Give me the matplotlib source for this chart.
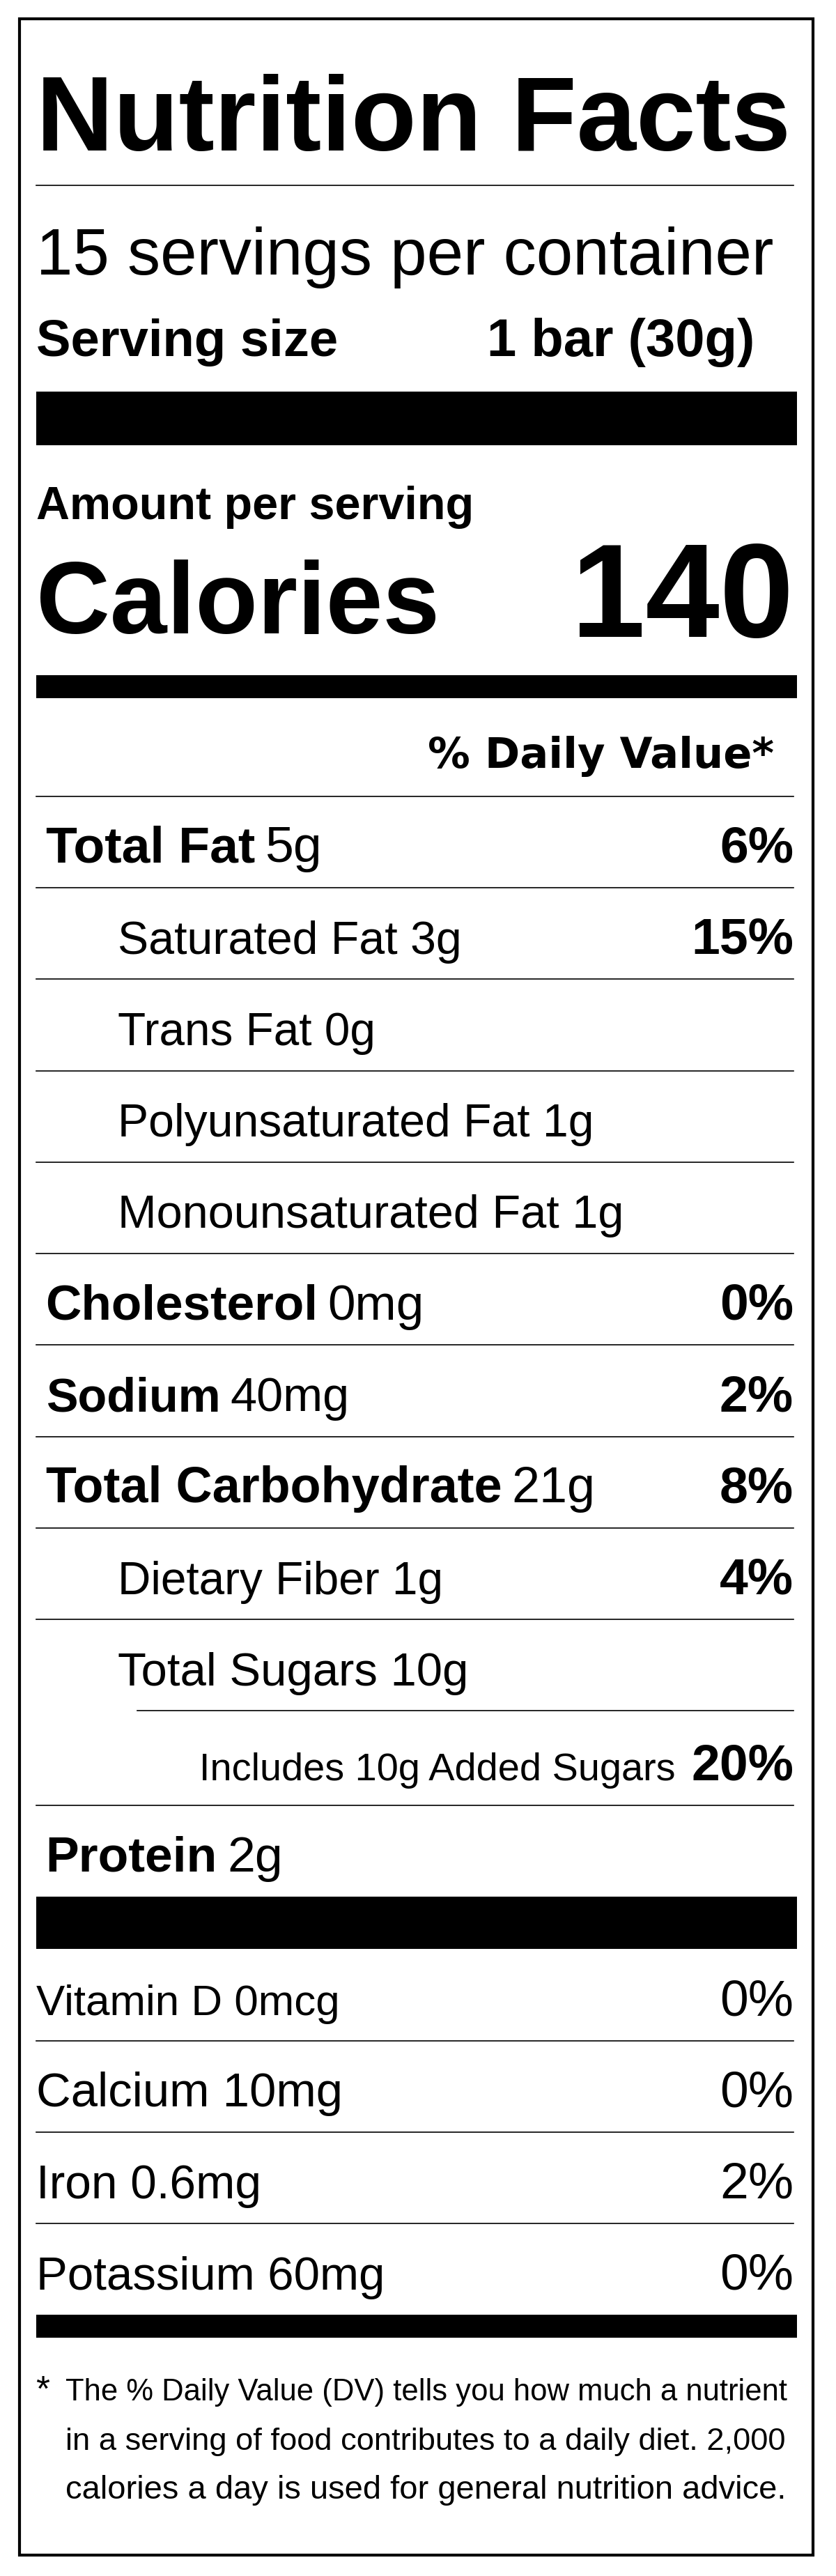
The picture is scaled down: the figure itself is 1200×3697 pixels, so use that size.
import matplotlib
matplotlib.use("Agg")
import matplotlib.pyplot as plt
from matplotlib.patches import Rectangle

title = "Nutrition Facts"
servings = "15 servings per container"
serving_size = ("Serving size", "1 bar (30g)")
calories = 140
nutr_names = ["Total Fat", "Saturated Fat", "Trans Fat", "Polyunsaturated Fat", "Monounsaturated Fat",
              "Cholesterol", "Sodium", "Total Carbohydrate", "Dietary Fiber", "Total Sugars",
              "Includes 10g Added Sugars", "Protein"]
nutr_amounts = ["5g", "3g", "0g", "1g", "1g", "0mg", "40mg", "21g", "1g", "10g", "", "2g"]
nutr_dv = ["6%", "15%", "", "", "", "0%", "2%", "8%", "4%", "", "20%", ""]
nutr_level = [0, 1, 1, 1, 1, 0, 0, 0, 1, 1, 2, 0]
vit_names = ["Vitamin D 0mcg", "Calcium 10mg", "Iron 0.6mg", "Potassium 60mg"]
vit_dv = ["0%", "0%", "2%", "0%"]
footnote = ["The % Daily Value (DV) tells you how much a nutrient",
            "in a serving of food contributes to a daily diet. 2,000",
            "calories a day is used for general nutrition advice."]

# reference text widths (layout, display units) used to fit the wide fonts
nutr_w = [129, 211, 158, 292, 310, 167, 107, 279, 200, 215, 292, 105]
vit_w = [186, 188, 138, 214]

S = 1200 / 512
W, H = 512, 3698 / S
fig = plt.figure(figsize=(12, 36.98), dpi=100)
ax = fig.add_axes([0, 0, 1, 1])
ax.set_xlim(0, W); ax.set_ylim(H, 0); ax.axis("off")
fig.canvas.draw()
R = fig.canvas.get_renderer()

FAM = ["Liberation Sans", "DejaVu Sans"]
def T(x, y, s, cap, bold=False, ha="left", fam=FAM, maxw=None, size=None):
    t = ax.text(x, y, s, fontsize=size if size else cap * S * 0.98,
                fontweight="bold" if bold else "normal",
                ha=ha, va="baseline", family=fam, color="black")
    if maxw:
        bb = t.get_window_extent(R).transformed(ax.transData.inverted())
        w = bb.x1 - bb.x0
        if w > maxw:
            t.set_fontsize(t.get_fontsize() * maxw / w)
    return t
def right_edge(t):
    return t.get_window_extent(R).transformed(ax.transData.inverted()).x1
def bar(y0, y1, x0=22, x1=488):
    ax.add_patch(Rectangle((x0, y0), x1 - x0, y1 - y0, color="black", lw=0))
def line(y, x0=22, x1=486):
    ax.plot([x0, x1], [y, y], color="black", lw=1.2)

ax.add_patch(Rectangle((12, 12), 486, 1553, fill=False, ec="black", lw=3))
T(22, 92, title, 64, bold=True, maxw=462)
line(114)
T(22, 168, servings, 30, maxw=452)
T(22, 218, serving_size[0], 31, bold=True, maxw=185)
T(462, 218, serving_size[1], 31, bold=True, ha="right", maxw=164)
bar(240, 273)
T(22, 318, "Amount per serving", 25, bold=True, maxw=268)
T(22, 388, "Calories", 46, bold=True, maxw=251)
T(486, 390, str(calories), 60, bold=True, ha="right", maxw=162)
bar(414, 428)
T(474, 470, "% Daily Value*", 19, bold=True, ha="right", fam=["DejaVu Sans"], maxw=246)
line(488)

indent = [28, 72, 122]
for i, (n, a, d, lv) in enumerate(zip(nutr_names, nutr_amounts, nutr_dv, nutr_level)):
    top = 488 + 56 * i + (2 if i >= 10 else 0)
    base = top + 40
    x = indent[lv]
    if lv == 0:
        t = T(x, base, n, 23, bold=True, maxw=nutr_w[i])
        T(right_edge(t) + 6, base, a, 23, size=t.get_fontsize())
    else:
        T(x, base, (n + " " + a).strip(), 23, maxw=nutr_w[i])
    if d:
        T(486, base, d, 23, bold=True, ha="right")
    if i < len(nutr_names) - 1:
        line(top + 56, x0=84 if i == 9 else 22)

bar(1162, 1194)
for i, (n, d) in enumerate(zip(vit_names, vit_dv)):
    base = 1234 + 56 * i
    T(22, base, n, 23, maxw=vit_w[i])
    T(486, base, d, 23, ha="right")
    if i < 3:
        line(1250 + 56 * i)
bar(1418, 1432)
T(22, 1470, "*", 16)
for i, l in enumerate(footnote):
    T(40, 1470 + 30 * i, l, 16, maxw=440)

fig.savefig("out.png", dpi=100)
